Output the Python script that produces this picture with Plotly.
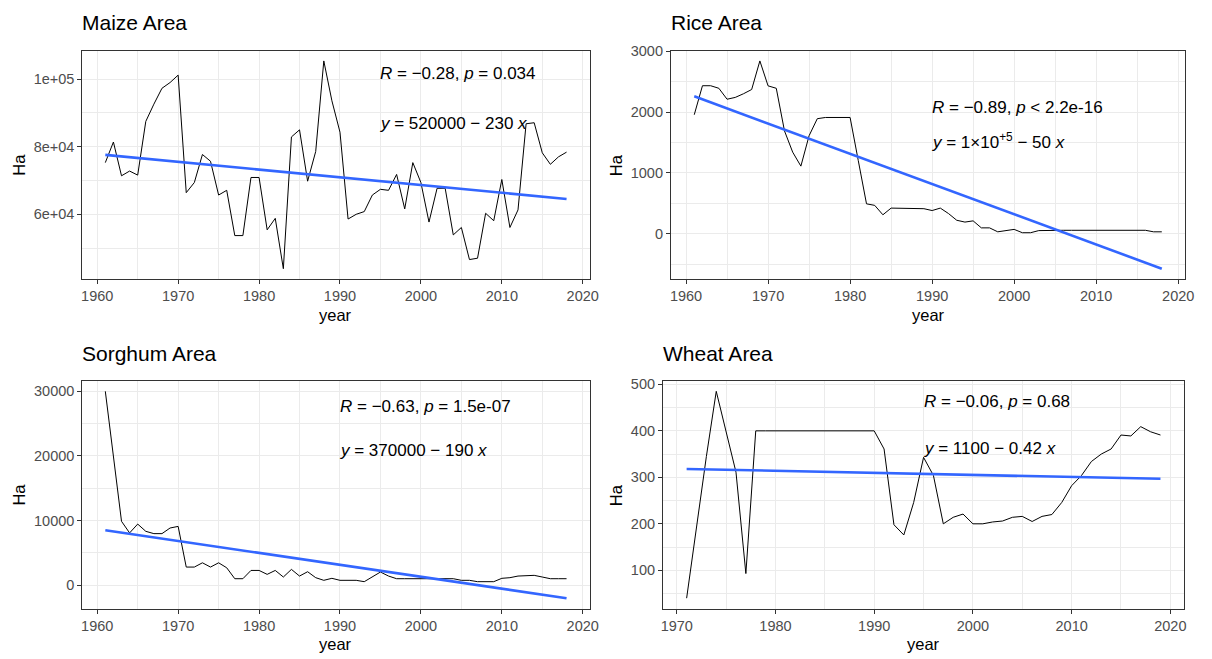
import numpy as np
import plotly.graph_objects as go

# ---------------- data ----------------
maize_years = list(range(1961, 2019))
maize_area = [75300, 81400, 71400, 72800, 71600, 87500, 92600, 97300, 99000, 101200,
              66400, 69400, 77700, 75700, 65700, 67100, 53700, 53700, 70900, 70900,
              55400, 58800, 43900, 82900, 85000, 69800, 78600, 105400, 93600, 84300,
              58600, 60000, 60800, 65700, 67400, 67100, 71800, 61600, 75300, 69400,
              57700, 67700, 67700, 53900, 56100, 46600, 47000, 60300, 58100, 70300,
              56100, 61300, 86800, 87100, 78200, 74800, 77000, 78400]

rice_years = list(range(1961, 2019))
rice_area = [1955, 2432, 2432, 2390, 2210, 2240, 2300, 2370, 2840, 2430,
             2390, 1690, 1340, 1110, 1610, 1890, 1910, 1910, 1910, 1910,
             1200, 490, 465, 310, 420, 420, 420, 420, 410, 380,
             420, 330, 220, 190, 210, 95, 95, 30, 55, 70,
             15, 15, 50, 55, 55, 55, 55, 55, 55, 55,
             55, 55, 55, 55, 55, 55, 30, 30]

sorghum_years = list(range(1961, 2019))
sorghum_area = [30000, 19900, 9900, 8100, 9470, 8350, 7990, 7990, 8860, 9110,
                2820, 2820, 3480, 2820, 3480, 2710, 1020, 1020, 2300, 2300,
                1690, 2300, 1280, 2460, 1430, 2100, 1180, 770, 1080, 770,
                770, 770, 560, 1280, 2050, 1430, 1020, 1020, 1020, 1020,
                1020, 1020, 1020, 1020, 770, 770, 560, 560, 560, 1080,
                1180, 1430, 1540, 1540, 1280, 1020, 1020, 1020]

wheat_years = list(range(1971, 2020))
wheat_area = [40, 195, 345, 485, 395, 311, 93, 400, 400, 400,
              400, 400, 400, 400, 400, 400, 400, 400, 400, 400,
              361, 198, 176, 246, 343, 304, 200, 214, 221, 200,
              200, 204, 206, 214, 216, 205, 216, 220, 246, 282,
              304, 334, 350, 361, 391, 389, 409, 398, 391]

titles = ["Maize Area", "Rice Area", "Sorghum Area", "Wheat Area"]
stat_lines = ["<i>R</i> = \u22120.28, <i>p</i> = 0.034",
              "<i>R</i> = \u22120.89, <i>p</i> < 2.2e-16",
              "<i>R</i> = \u22120.63, <i>p</i> = 1.5e-07",
              "<i>R</i> = \u22120.06, <i>p</i> = 0.68"]
eq_lines = ["<i>y</i> = 520000 \u2212 230 <i>x</i>",
            "<i>y</i> = 1\u00d710<sup>+5</sup> \u2212 50 <i>x</i>",
            "<i>y</i> = 370000 \u2212 190 <i>x</i>",
            "<i>y</i> = 1100 \u2212 0.42 <i>x</i>"]
label_x = [1995, 1990, 1990, 1995]
label_y1 = [99800, 1980, 26700, 450]
label_y2 = [85200, 1420, 19980, 349]

x_ticks = [[1960, 1970, 1980, 1990, 2000, 2010, 2020]] * 3 + [[1970, 1980, 1990, 2000, 2010, 2020]]
y_tickvals = [[60000, 80000, 100000], [0, 1000, 2000, 3000],
              [0, 10000, 20000, 30000], [100, 200, 300, 400, 500]]
y_ticktext = [["6e+04", "8e+04", "1e+05"], ["0", "1000", "2000", "3000"],
              ["0", "10000", "20000", "30000"], ["100", "200", "300", "400", "500"]]
y_minor = [(50000, 10000), (-500, 500), (-5000, 5000), (50, 50)]

series = [(maize_years, maize_area), (rice_years, rice_area),
          (sorghum_years, sorghum_area), (wheat_years, wheat_area)]

# ---------------- layout geometry (pixels) ----------------
W, H = 1212, 659
boxes = [(81, 593, 44, 275), (675, 1194, 44, 275),
         (81, 593, 378, 608), (667, 1193, 378, 608)]
title_pos = [(79, 16), (673, 16), (79, 350), (665, 350)]
ha_x = [18, 620, 18, 620]

FONT = "Liberation Sans, Arial, sans-serif"
BORDER = "#333333"
GRID = "#EBEBEB"

fig = go.Figure()
annotations = []

for i, (xs, ys) in enumerate(series):
    n = "" if i == 0 else str(i + 1)
    xa, ya = "x" + n, "y" + n
    xs_arr = np.array(xs, dtype=float)
    ys_arr = np.array(ys, dtype=float)
    slope, icpt = np.polyfit(xs_arr, ys_arr, 1)
    fit = icpt + slope * xs_arr

    fig.add_trace(go.Scatter(x=xs, y=ys, mode="lines",
                             line=dict(color="black", width=1),
                             xaxis=xa, yaxis=ya, showlegend=False, hoverinfo="skip"))
    fig.add_trace(go.Scatter(x=xs, y=fit, mode="lines",
                             line=dict(color="#3366FF", width=2.6),
                             xaxis=xa, yaxis=ya, showlegend=False, hoverinfo="skip"))

    xmin, xmax = xs_arr.min(), xs_arr.max()
    xe = (xmax - xmin) * 0.05
    ymin = min(ys_arr.min(), fit.min())
    ymax = max(ys_arr.max(), fit.max())
    ye = (ymax - ymin) * 0.05

    l, r, t, b = boxes[i]
    common = dict(showline=True, mirror=True, linecolor=BORDER, linewidth=1,
                  ticks="outside", ticklen=4, tickwidth=1, tickcolor=BORDER,
                  showgrid=True, gridcolor=GRID, gridwidth=1.1, zeroline=False,
                  tickfont=dict(family=FONT, size=14.5, color="#4D4D4D"))
    fig.update_layout(**{
        ("xaxis" + n): dict(domain=[l / W, r / W], anchor=ya,
                            range=[xmin - xe, xmax + xe],
                            tickmode="array", tickvals=x_ticks[i],
                            minor=dict(tickmode="linear", tick0=1955, dtick=5,
                                       showgrid=True, gridcolor=GRID, gridwidth=0.6),
                            **common),
        ("yaxis" + n): dict(domain=[1 - b / H, 1 - t / H], anchor=xa,
                            range=[ymin - ye, ymax + ye],
                            tickmode="array", tickvals=y_tickvals[i], ticktext=y_ticktext[i],
                            minor=dict(tickmode="linear", tick0=y_minor[i][0], dtick=y_minor[i][1],
                                       showgrid=True, gridcolor=GRID, gridwidth=0.6),
                            **common),
    })

    # title
    tx, ty = title_pos[i]
    annotations.append(dict(text=titles[i], xref="paper", yref="paper",
                            x=tx / W, y=1 - ty / H, xanchor="left", yanchor="middle",
                            showarrow=False, font=dict(family=FONT, size=21, color="black")))
    # axis titles
    annotations.append(dict(text="year", xref="paper", yref="paper",
                            x=(l + r) / 2 / W, y=1 - (b + 36) / H,
                            xanchor="center", yanchor="middle", showarrow=False,
                            font=dict(family=FONT, size=16.5, color="black")))
    annotations.append(dict(text="Ha", xref="paper", yref="paper",
                            x=(ha_x[i] - 1) / W, y=1 - (t + b) / 2 / H, textangle=-90,
                            xanchor="center", yanchor="middle", showarrow=False,
                            font=dict(family=FONT, size=16.5, color="black")))
    # stats labels
    for txt, yy in ((stat_lines[i], label_y1[i]), (eq_lines[i], label_y2[i])):
        annotations.append(dict(text=txt, xref=xa, yref=ya, x=label_x[i], y=yy,
                                xanchor="left", yanchor="middle", showarrow=False,
                                xshift=-2, yshift=6,
                                font=dict(family=FONT, size=17, color="black")))

fig.update_layout(width=W, height=H, margin=dict(l=0, r=0, t=0, b=0),
                  plot_bgcolor="white", paper_bgcolor="white",
                  annotations=annotations, showlegend=False)

fig.write_html("out.html")
